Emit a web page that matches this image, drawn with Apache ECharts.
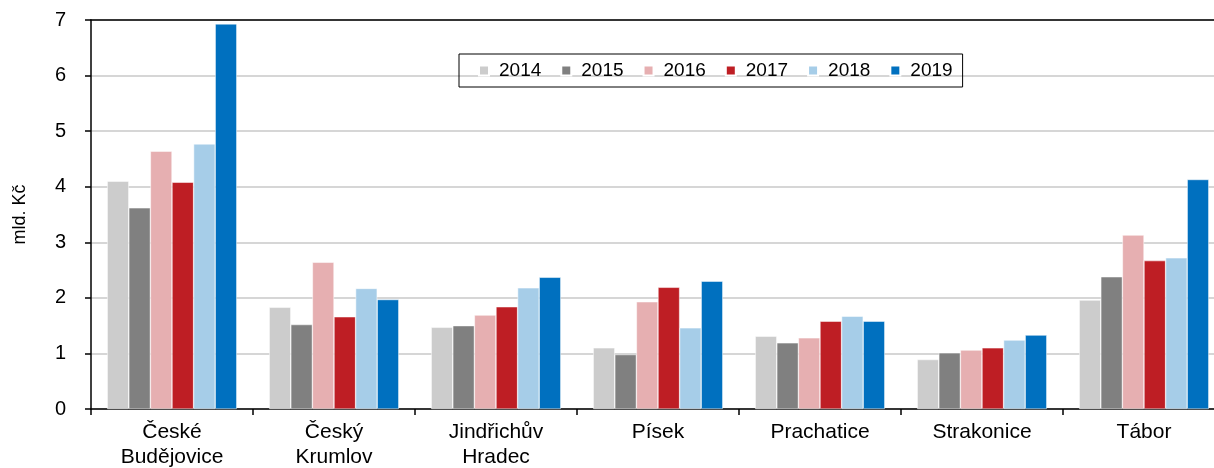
<!DOCTYPE html>
<html lang="cs">
<head>
<meta charset="UTF-8">
<title>Okresy</title>
<script src="https://cdn.jsdelivr.net/npm/echarts@6/dist/echarts.min.js"></script>
<style>
  html, body { margin: 0; padding: 0; background: #fff; }
</style>
</head>
<body>
<div id="main" style="width:1214px;height:468px;"></div>
<script>
const categories = ['České\nBudějovice', 'Český\nKrumlov', 'Jindřichův\nHradec', 'Písek', 'Prachatice', 'Strakonice', 'Tábor'];
const years = ['2014', '2015', '2016', '2017', '2018', '2019'];
const colors = ['#cccccc', '#808080', '#e6afb1', '#be1e24', '#a6cde8', '#0070bf'];

const v2014 = [4.10, 1.83, 1.47, 1.10, 1.31, 0.89, 1.96];
const v2015 = [3.62, 1.52, 1.50, 0.98, 1.19, 1.01, 2.38];
const v2016 = [4.64, 2.64, 1.69, 1.93, 1.28, 1.06, 3.13];
const v2017 = [4.08, 1.66, 1.84, 2.19, 1.58, 1.10, 2.67];
const v2018 = [4.77, 2.17, 2.18, 1.46, 1.67, 1.24, 2.72];
const v2019 = [6.93, 1.97, 2.37, 2.30, 1.58, 1.33, 4.13];
const values = [v2014, v2015, v2016, v2017, v2018, v2019];

const font = 'Liberation Sans, Arial, sans-serif';
const chart = echarts.init(document.getElementById('main'));

chart.setOption({
  animation: false,
  textStyle: { fontFamily: font },
  legend: {
    data: years,
    left: 459,
    top: 54,
    icon: 'rect',
    itemWidth: 10,
    itemHeight: 10,
    itemGap: 19,
    padding: [7, 10, 7, 19],
    borderColor: '#000',
    borderWidth: 1,
    textStyle: { fontSize: 19, color: '#000', fontFamily: font, padding: [0, 0, 0, 5] }
  },
  grid: { left: 91, top: 20, bottom: 59, width: 1134, containLabel: false, outerBoundsMode: 'none' },
  xAxis: [{
    type: 'category',
    data: categories,
    axisLine: { lineStyle: { color: '#000', width: 1.5 } },
    axisTick: { show: true, length: 6, lineStyle: { color: '#000', width: 1.5 } },
    axisLabel: { fontSize: 21, color: '#000', fontFamily: font, lineHeight: 25, margin: 11 }
  }, {
    type: 'category',
    position: 'top',
    data: categories,
    axisLine: { lineStyle: { color: '#000', width: 1.5 } },
    axisTick: { show: false },
    axisLabel: { show: false }
  }],
  yAxis: {
    type: 'value',
    min: 0,
    max: 7,
    interval: 1,
    name: 'mld. Kč',
    nameLocation: 'middle',
    nameGap: 62,
    nameTextStyle: { fontSize: 18, color: '#000', fontFamily: font },
    axisLine: { show: true, lineStyle: { color: '#000', width: 1.5 } },
    axisTick: { show: true, length: 6, lineStyle: { color: '#000', width: 1.5 } },
    axisLabel: { fontSize: 20, color: '#000', fontFamily: font, margin: 25 },
    splitLine: { lineStyle: { color: '#c8c8c8', width: 1.5 } }
  },
  series: years.map((y, i) => ({
    name: y,
    type: 'bar',
    data: values[i],
    barGap: '0%',
    barCategoryGap: '20%',
    itemStyle: { color: colors[i], borderColor: '#fff', borderWidth: 0.5 }
  }))
});
</script>
</body>
</html>
